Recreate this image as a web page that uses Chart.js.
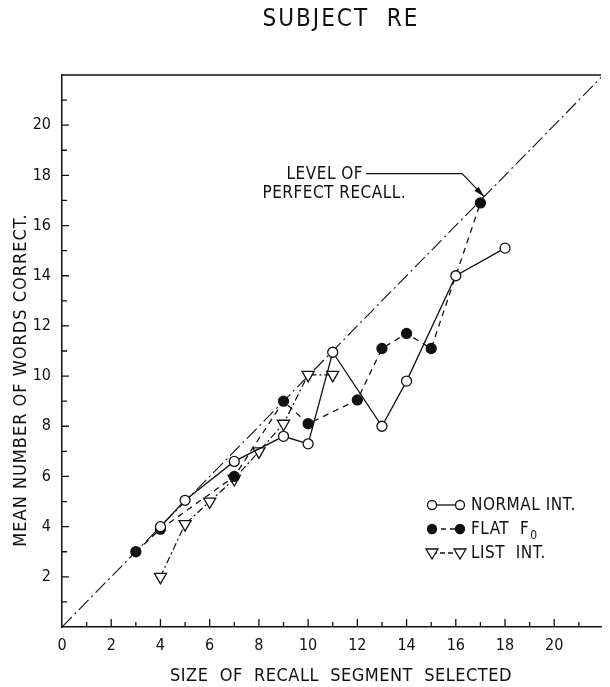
<!DOCTYPE html>
<html>
<head>
<meta charset="utf-8">
<script src="https://cdn.jsdelivr.net/npm/chart.js@4.4.0/dist/chart.umd.min.js"></script>
<style>
    body { margin: 0; background: #fff; }
    #wrap { width: 610px; height: 687px; position: relative; }
</style>
</head>
<body>
<div id="wrap"><canvas id="recallChart"></canvas></div>
<script>
// values (segment size -> mean words correct)
const normalSizes = [4, 5, 7, 9, 10, 11, 13, 14, 16, 18];
const normalWords = [4.0, 5.05, 6.6, 7.6, 7.3, 10.95, 8.0, 9.8, 14.0, 15.1];
const flatSizes = [3, 4, 7, 9, 10, 12, 13, 14, 15, 17];
const flatWords = [3.0, 3.9, 6.0, 9.0, 8.1, 9.05, 11.1, 11.7, 11.1, 16.9];
const listSizes = [4, 5, 6, 7, 8, 9, 10, 11];
const listWords = [2.0, 4.1, 5.0, 5.9, 7.0, 8.1, 10.05, 10.05];
const perfectSizes = [0, 22];
const perfectWords = [0, 22];
const xTickLabels = [0, 2, 4, 6, 8, 10, 12, 14, 16, 18, 20];
const yTickLabels = [2, 4, 6, 8, 10, 12, 14, 16, 18, 20];

const FONT = '"DejaVu Sans Condensed", "DejaVu Sans", sans-serif';
Chart.defaults.font.family = FONT;
Chart.defaults.color = '#111';

function toPoints(xs, ys) {
    return xs.map((x, i) => ({ x: x, y: ys[i] }));
}

// inward tick marks, frame top, titles, legend and arrow note
const decor = {
    id: 'decor',
    afterDraw(chart) {
        const ctx = chart.ctx;
        const area = chart.chartArea;
        const xs = chart.scales.x;
        const ys = chart.scales.y;
        ctx.save();
        ctx.strokeStyle = '#111';
        ctx.lineWidth = 1.3;
        ctx.beginPath();
        for (let i = 1; i <= Math.floor(xs.max); i++) {
            const px = xs.getPixelForValue(i);
            const len = i % 2 === 0 ? 8 : 5;
            ctx.moveTo(px, area.bottom);
            ctx.lineTo(px, area.bottom - len);
        }
        for (let i = 1; i <= Math.floor(ys.max); i++) {
            const py = ys.getPixelForValue(i);
            const len = i % 2 === 0 ? 7 : 5;
            ctx.moveTo(area.left, py);
            ctx.lineTo(area.left + len, py);
        }
        ctx.moveTo(area.left, area.top);
        ctx.lineTo(area.right, area.top);
        ctx.stroke();

        // titles
        ctx.fillStyle = '#111';
        ctx.textAlign = 'center';
        ctx.textBaseline = 'middle';
        ctx.font = '24px ' + FONT;
        ctx.letterSpacing = '2px';
        ctx.fillText('SUBJECT  RE', 341, 20);
        ctx.font = '18px ' + FONT;
        ctx.letterSpacing = '0.5px';
        ctx.fillText('SIZE  OF  RECALL  SEGMENT  SELECTED', 341, 676);
        ctx.letterSpacing = '1px';
        ctx.save();
        ctx.translate(21, 380);
        ctx.rotate(-Math.PI / 2);
        ctx.fillText('MEAN NUMBER OF WORDS CORRECT.', 0, 0);
        ctx.restore();
        ctx.letterSpacing = '0.5px';

        // note with arrow to the perfect recall line
        const tipX = xs.getPixelForValue(17.15);
        const tipY = ys.getPixelForValue(17.15);
        const cornerX = tipX - 22;
        const cornerY = tipY - 23;
        ctx.lineWidth = 1.2;
        ctx.beginPath();
        ctx.moveTo(cornerX - 96, cornerY);
        ctx.lineTo(cornerX, cornerY);
        ctx.lineTo(tipX, tipY);
        ctx.stroke();
        const ang = Math.atan2(tipY - cornerY, tipX - cornerX);
        ctx.beginPath();
        ctx.moveTo(tipX, tipY);
        ctx.lineTo(tipX - 11 * Math.cos(ang) + 3 * Math.sin(ang), tipY - 11 * Math.sin(ang) - 3 * Math.cos(ang));
        ctx.lineTo(tipX - 11 * Math.cos(ang) - 3 * Math.sin(ang), tipY - 11 * Math.sin(ang) + 3 * Math.cos(ang));
        ctx.closePath();
        ctx.fill();
        ctx.font = '17px ' + FONT;
        ctx.textAlign = 'right';
        ctx.fillText('LEVEL OF', cornerX - 99, cornerY + 1);
        ctx.fillText('PERFECT RECALL.', cornerX - 56, cornerY + 20);

        // legend
        const rows = [
            { label: 'NORMAL INT.', dash: [], kind: 'open' },
            { label: 'FLAT  F', dash: [5, 4], kind: 'filled', sub: '0' },
            { label: 'LIST  INT.', dash: [5, 3], kind: 'tri' },
        ];
        const lx1 = area.left + 370;
        const lx2 = area.left + 398;
        rows.forEach((row, k) => {
            const y = area.top + 430 + k * 24;
            ctx.setLineDash(row.dash);
            ctx.lineWidth = 1.3;
            ctx.beginPath();
            ctx.moveTo(lx1, y);
            ctx.lineTo(lx2, y);
            ctx.stroke();
            ctx.setLineDash([]);
            [lx1, lx2].forEach(cx => {
                ctx.beginPath();
                if (row.kind === 'tri') {
                    ctx.moveTo(cx - 6, y - 4);
                    ctx.lineTo(cx + 6, y - 4);
                    ctx.lineTo(cx, y + 6);
                    ctx.closePath();
                } else {
                    ctx.arc(cx, y, 4.5, 0, Math.PI * 2);
                }
                ctx.fillStyle = row.kind === 'filled' ? '#111' : '#fff';
                ctx.fill();
                ctx.stroke();
            });
            ctx.fillStyle = '#111';
            ctx.textAlign = 'left';
            ctx.font = '17px ' + FONT;
            ctx.fillText(row.label, lx2 + 11, y + 1);
            if (row.sub) {
                const w = ctx.measureText(row.label).width;
                ctx.font = '12px ' + FONT;
                ctx.fillText(row.sub, lx2 + 11 + w + 1, y + 7);
            }
        });
        ctx.restore();
    }
};

const ctx = document.getElementById('recallChart').getContext('2d');
const recallChart = new Chart(ctx, {
    type: 'scatter',
    data: {
        datasets: [
            {
                label: 'NORMAL INT.',
                data: toPoints(normalSizes, normalWords),
                showLine: true,
                borderColor: '#111',
                borderWidth: 1.3,
                pointStyle: 'circle',
                pointRadius: 5,
                pointBackgroundColor: '#fff',
                pointBorderColor: '#111',
                pointBorderWidth: 1.3,
                order: 1,
            },
            {
                label: 'FLAT F0',
                data: toPoints(flatSizes, flatWords),
                showLine: true,
                borderColor: '#111',
                borderWidth: 1.3,
                borderDash: [6, 5],
                pointStyle: 'circle',
                pointRadius: 5,
                pointBackgroundColor: '#111',
                pointBorderColor: '#111',
                order: 2,
            },
            {
                label: 'LIST INT.',
                data: toPoints(listSizes, listWords),
                showLine: true,
                borderColor: '#111',
                borderWidth: 1.2,
                borderDash: [7, 3, 2, 3],
                pointStyle: 'triangle',
                rotation: 180,
                pointRadius: 7,
                pointBackgroundColor: '#fff',
                pointBorderColor: '#111',
                pointBorderWidth: 1.3,
                order: 3,
            },
            {
                label: 'Level of perfect recall',
                data: toPoints(perfectSizes, perfectWords),
                showLine: true,
                borderColor: '#111',
                borderWidth: 1.1,
                borderDash: [14, 4, 2, 4],
                pointRadius: 0,
                order: 4,
            },
        ],
    },
    options: {
        responsive: true,
        maintainAspectRatio: false,
        animation: false,
        layout: {
            padding: { top: 75, left: 0, right: 0, bottom: 0 },
        },
        plugins: {
            legend: { display: false },
            tooltip: { enabled: false },
        },
        scales: {
            x: {
                type: 'linear',
                min: 0,
                max: 21.9,
                afterFit: scale => { scale.height = 60; },
                grid: { display: false, drawTicks: false },
                border: { color: '#111', width: 1.5 },
                ticks: {
                    stepSize: 1,
                    autoSkip: false,
                    maxRotation: 0,
                    padding: 9,
                    font: { size: 16 },
                    color: '#111',
                    callback: v => xTickLabels.includes(v) ? String(v) : '',
                },
            },
            y: {
                type: 'linear',
                min: 0,
                max: 22,
                afterFit: scale => { scale.width = 62; },
                grid: { display: false, drawTicks: false },
                border: { color: '#111', width: 1.5 },
                ticks: {
                    stepSize: 1,
                    autoSkip: false,
                    padding: 11,
                    font: { size: 16 },
                    color: '#111',
                    callback: v => yTickLabels.includes(v) ? String(v) : '',
                },
            },
        },
    },
    plugins: [decor],
});
</script>
</body>
</html>
